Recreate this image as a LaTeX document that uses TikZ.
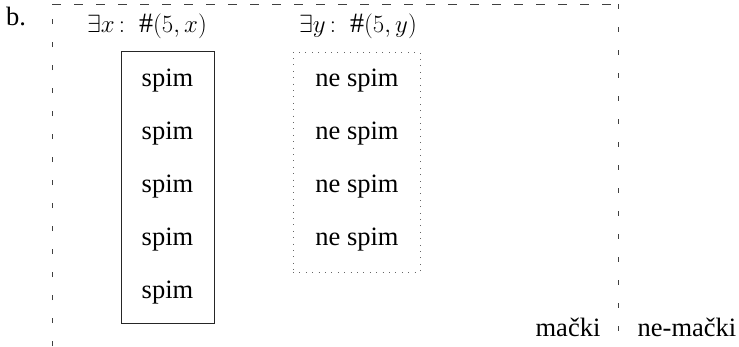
\documentclass[tikz,border=0pt]{standalone}
\usepackage{fontspec}
\setmainfont{Liberation Serif}

\begin{document}
\begin{tikzpicture}[x=1pt, y=-1pt,
        every node/.style={font=\fontsize{26.5}{32}\selectfont, inner sep=0pt},
        qlabel/.style={font=\fontsize{28}{34}\selectfont},
        hdash/.style={dash pattern=on 9pt off 13pt, line width=1pt, black!75},
        vdash/.style={dash pattern=on 5pt off 18pt, line width=1pt, black!75},
        setbox/.style={rectangle, draw=black!85, line width=1pt, minimum width=93pt, minimum height=272pt},
        nsetbox/.style={rectangle, draw=black!60, line width=0.8pt, dash pattern=on 0.8pt off 5.6pt, minimum width=127pt, minimum height=220pt},
        ]
      \useasboundingbox (0,0) rectangle (739,346);

      % domain frame
      \coordinate (bl) at (52,346);
      \coordinate (tl) at (52,4);
      \coordinate (tr) at (618,4);
      \coordinate (br) at (618,340);
      \draw[vdash] (bl) -- (tl);
      \draw[hdash] (tl) -- (tr);
      \draw[vdash] (tr) -- (br);

      \node (b) at (16,16) {b.};
      \node[qlabel] (ex) at (147,26) {$\exists x\,{:}\ \ \#(5,x)$};
      \node[qlabel] (ey) at (358,26) {$\exists y\,{:}\ \ \#(5,y)$};

      % sets
      \node[setbox] (sx) at (167.5,187) {};
      \node[nsetbox] (sy) at (356.5,162) {};

      \foreach \i/\yy in {1/81,2/134,3/187,4/240,5/293}
        \node (s\i) at (167.5,\yy) {spim};
      \foreach \i/\yy in {1/81,2/134,3/187,4/240}
        \node (n\i) at (357,\yy) {ne spim};

      \node (ma) at (568,327) {mački};
      \node (nm) at (687,327) {ne-mački};
    \end{tikzpicture}
\end{document}
